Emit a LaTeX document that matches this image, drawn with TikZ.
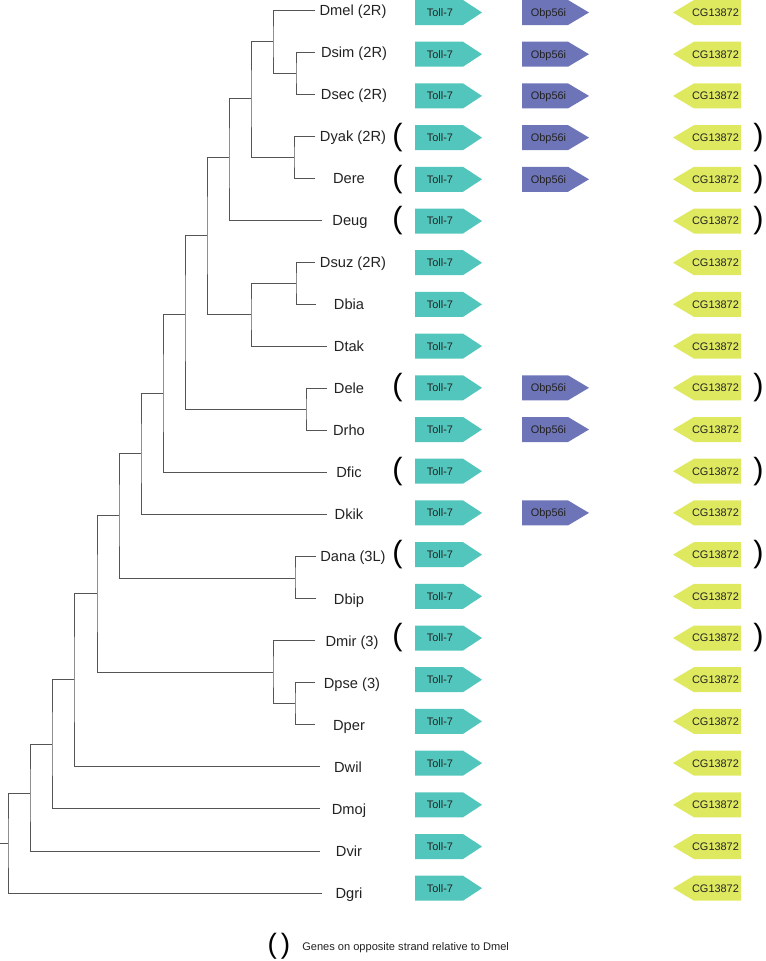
\documentclass[tikz,border=0pt]{standalone}
\usepackage{fontspec}
\setmainfont{Liberation Sans}
\definecolor{treec}{HTML}{555555}
\definecolor{tollc}{HTML}{52C6BC}
\definecolor{obpc}{HTML}{6D74B8}
\definecolor{cgc}{HTML}{DEE960}
\definecolor{txtc}{HTML}{222222}
\tikzset{
  branch/.style={draw=treec,line width=0.75pt},
  leaflabel/.style={anchor=base,inner sep=0pt,font=\fontsize{11}{13}\selectfont,text=txtc},
  genetext/.style={anchor=base,inner sep=0pt,font=\fontsize{8.2}{10}\selectfont,text=txtc},
  parenmark/.style={anchor=center,inner sep=0pt,font=\fontsize{23}{26}\selectfont,text=black},
}
\begin{document}
\begin{tikzpicture}[x=0.75pt,y=-0.75pt]
\useasboundingbox (0,0) rectangle (765,961);
% leaves
\foreach \i/\nm/\lab/\ex/\cx in {
 0/mel/{Dmel (2R)}/315/353, 1/sim/{Dsim (2R)}/315/354, 2/sec/{Dsec (2R)}/315/354,
 3/yak/{Dyak (2R)}/315/353, 4/ere/{Dere}/315/349, 5/eug/{Deug}/322/350,
 6/suz/{Dsuz (2R)}/315/353, 7/bia/{Dbia}/316/349, 8/tak/{Dtak}/327/349,
 9/ele/{Dele}/327/349, 10/rho/{Drho}/327/349, 11/fic/{Dfic}/327/349,
 12/kik/{Dkik}/327/349, 13/ana/{Dana (3L)}/316/353, 14/bip/{Dbip}/316/349,
 15/mir/{Dmir (3)}/315/352, 16/pse/{Dpse (3)}/315/352, 17/per/{Dper}/315/349,
 18/wil/{Dwil}/320/348, 19/moj/{Dmoj}/320/349, 20/vir/{Dvir}/320/349,
 21/gri/{Dgri}/322/349}{
  \coordinate (\nm) at (\ex,{10+42.05*\i});
  \node[leaflabel] (lab\nm) at (\cx,{15.3+42.05*\i}) {\lab};
}
% internal nodes
\coordinate (A) at (296,73);
\coordinate (B) at (273,41.5);
\coordinate (C) at (294,157);
\coordinate (D) at (251,98);
\coordinate (E) at (229,157);
\coordinate (F) at (296,283);
\coordinate (G) at (251,314);
\coordinate (H) at (207,235);
\coordinate (I) at (306,409);
\coordinate (J) at (185,314);
\coordinate (K) at (163,393);
\coordinate (L) at (141,453);
\coordinate (M) at (295,578);
\coordinate (N) at (119,515);
\coordinate (O) at (295,703);
\coordinate (P) at (273,672);
\coordinate (Q) at (97,593);
\coordinate (R) at (74,679);
\coordinate (S) at (52,744);
\coordinate (T) at (30,793);
\coordinate (U) at (8,843);
\coordinate (root) at (0,843);
\draw[branch] (sim) -| (A) |- (sec);
\draw[branch] (mel) -| (B) |- (A);
\draw[branch] (yak) -| (C) |- (ere);
\draw[branch] (B) -| (D) |- (C);
\draw[branch] (D) -| (E) |- (eug);
\draw[branch] (suz) -| (F) |- (bia);
\draw[branch] (F) -| (G) |- (tak);
\draw[branch] (E) -| (H) |- (G);
\draw[branch] (ele) -| (I) |- (rho);
\draw[branch] (H) -| (J) |- (I);
\draw[branch] (J) -| (K) |- (fic);
\draw[branch] (K) -| (L) |- (kik);
\draw[branch] (ana) -| (M) |- (bip);
\draw[branch] (L) -| (N) |- (M);
\draw[branch] (pse) -| (O) |- (per);
\draw[branch] (mir) -| (P) |- (O);
\draw[branch] (N) -| (Q) |- (P);
\draw[branch] (Q) -| (R) |- (wil);
\draw[branch] (R) -| (S) |- (moj);
\draw[branch] (S) -| (T) |- (vir);
\draw[branch] (T) -| (U) |- (gri);
\draw[branch] (root) -- (U);
% genes
\foreach \i in {0,...,21}{
  \pgfmathsetmacro{\yy}{12.5+41.7*\i}
  \fill[tollc] (415,\yy-12.5) -- (463,\yy-12.5) -- (482,\yy) -- (463,\yy+12.5) -- (415,\yy+12.5) -- cycle;
  \node[genetext] (toll\i) at (440,\yy+3.9) {Toll-7};
  \fill[cgc] (741,\yy-12.5) -- (694,\yy-12.5) -- (673,\yy) -- (694,\yy+12.5) -- (741,\yy+12.5) -- cycle;
  \node[genetext] (cg\i) at (715.5,\yy+3.9) {CG13872};
}
\foreach \i in {0,1,2,3,4,9,10,12}{
  \pgfmathsetmacro{\yy}{12.5+41.7*\i}
  \fill[obpc] (522,\yy-12.5) -- (568,\yy-12.5) -- (589,\yy) -- (568,\yy+12.5) -- (522,\yy+12.5) -- cycle;
  \node[genetext] (obp\i) at (548.5,\yy+3.9) {Obp56i};
}
\foreach \i in {3,4,5,9,11,13,15}{
  \pgfmathsetmacro{\yy}{12.5+41.7*\i}
  \node[parenmark] (lp\i) at (397.5,\yy) {(};
  \node[parenmark] (rp\i) at (758.5,\yy) {)};
}
% legend
\node[parenmark,font=\fontsize{21}{24}\selectfont] (legparen) at (279,946) {(\hspace{3pt})};
\node[anchor=base west,inner sep=0pt,font=\fontsize{8.3}{10}\selectfont,text=txtc] (legtext) at (302,950) {Genes on opposite strand relative to Dmel};
\end{tikzpicture}
\end{document}
